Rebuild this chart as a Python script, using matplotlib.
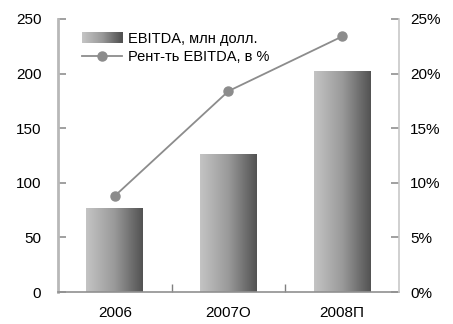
import numpy as np
import matplotlib
matplotlib.use("Agg")
import matplotlib.pyplot as plt
from matplotlib.colors import LinearSegmentedColormap
from matplotlib.patches import Rectangle
from matplotlib.legend_handler import HandlerBase

plt.rcParams['font.family'] = ['Liberation Sans Narrow', 'Liberation Sans', 'DejaVu Sans']

categories = ["2006", "2007О", "2008П"]
ebitda = [77, 126, 202]            # млн долл.
margin = [8.8, 18.4, 23.4]         # %
left_ticks = [0, 50, 100, 150, 200, 250]
right_ticks = [0, 5, 10, 15, 20, 25]

bar_label = "EBITDA, млн долл."
line_label = "Рент-ть EBITDA, в %"

grad = LinearSegmentedColormap.from_list("g", ["#c4c4c4", "#9a9a9a", "#525252"])
gradient = np.linspace(0, 1, 256).reshape(1, -1)

fig = plt.figure(figsize=(4.53, 3.24), dpi=100)
ax = fig.add_axes([58/453, 1 - 292/324, (399-58)/453, (292-19)/324])
x = np.arange(len(categories))
width = 0.5

bars = ax.bar(x, ebitda, width=width, color="none", edgecolor="none", zorder=2)
for b in bars:
    x0, y0 = b.get_x(), b.get_y()
    im = ax.imshow(gradient, cmap=grad, aspect="auto", zorder=2,
                   extent=[x0, x0 + b.get_width(), y0, y0 + b.get_height()],
                   interpolation="bilinear")
    im.set_clip_path(b)

ax.set_xlim(-0.5, len(categories) - 0.5)
ax.set_ylim(0, 250)
ax.set_yticks(left_ticks)
ax.set_yticklabels([str(v) for v in left_ticks])
ax.set_xticks(x)
ax.set_xticklabels(categories)
ax.set_xticks([0.5, 1.5], minor=True)
ax.tick_params(axis="x", which="major", length=0, pad=10, labelsize=11)
ax.tick_params(axis="x", which="minor", direction="in", length=6, color="#808080", width=1)
ax.tick_params(axis="y", direction="in", length=6, color="#909090", width=1.2, pad=12, labelsize=11)

for s in ["top", "right"]:
    ax.spines[s].set_visible(False)
ax.spines["left"].set_color("#b8b8b8")
ax.spines["left"].set_linewidth(2)
ax.spines["bottom"].set_color("#909090")
ax.spines["bottom"].set_linewidth(1.2)

ax2 = ax.twinx()
ax2.set_ylim(0, 25)
ax2.set_yticks(right_ticks)
ax2.set_yticklabels([f"{v}%" for v in right_ticks])
ax2.tick_params(axis="y", direction="in", length=6, color="#909090", width=1.2, pad=8, labelsize=11)
for s in ["top", "left", "bottom"]:
    ax2.spines[s].set_visible(False)
ax2.spines["right"].set_color("#c8c8c8")
ax2.spines["right"].set_linewidth(1.2)

line, = ax2.plot(x, margin, color="#8c8c8c", lw=1.3, marker="o", ms=6.5,
                 mfc="#8c8c8c", mec="#8c8c8c", zorder=3)


class GradientHandler(HandlerBase):
    def create_artists(self, legend, orig_handle, xdescent, ydescent,
                       width, height, fontsize, trans):
        n = 40
        artists = []
        for i in range(n):
            r = Rectangle((xdescent + width * i / n, ydescent),
                          width / n + 0.3, height,
                          facecolor=grad(i / (n - 1)), edgecolor="none",
                          transform=trans)
            artists.append(r)
        return artists


proxy = Rectangle((0, 0), 1, 1)
leg = ax.legend([proxy, line], [bar_label, line_label],
                handler_map={Rectangle: GradientHandler()},
                loc="upper left", bbox_to_anchor=(0.052, 0.975), frameon=False,
                fontsize=10.5, handlelength=2.8, handletextpad=0.35,
                labelspacing=0.3, borderaxespad=0)
leg.set_zorder(5)

fig.savefig("out.png", dpi=100)
